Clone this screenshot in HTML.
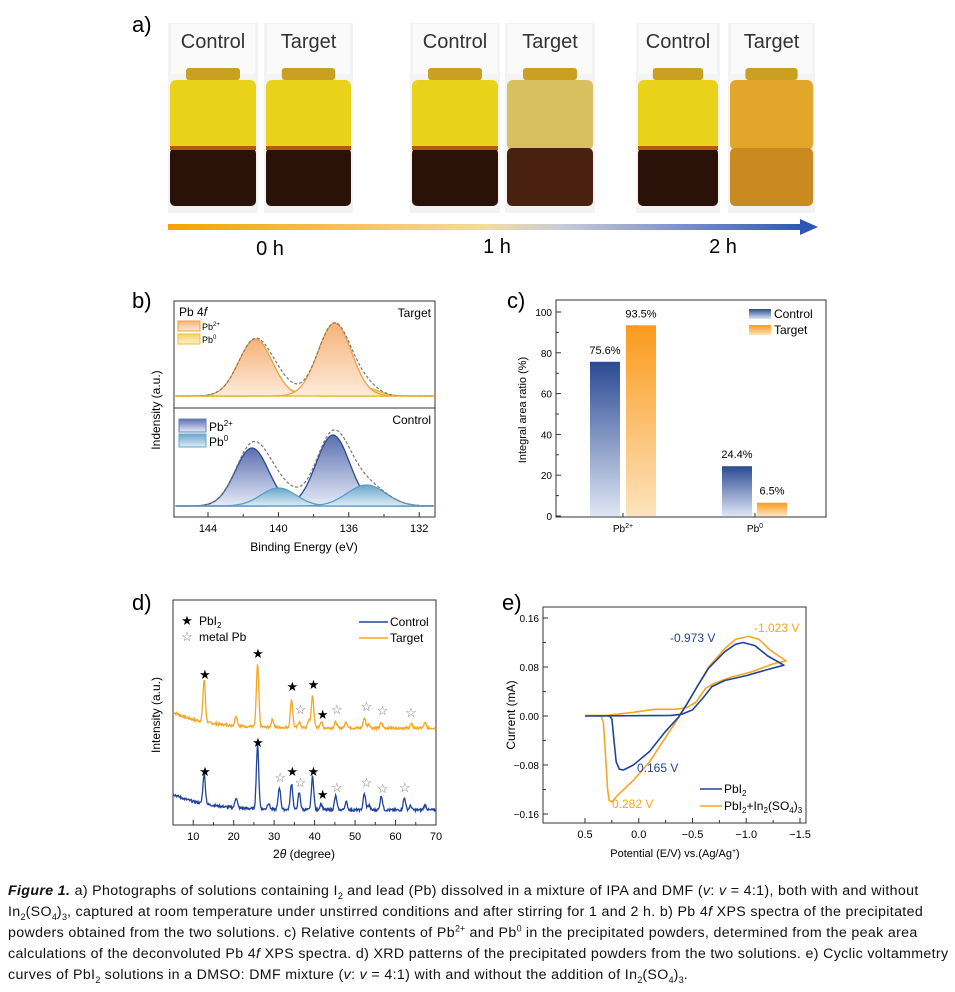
<!DOCTYPE html>
<html><head><meta charset="utf-8"><style>
body{margin:0;background:#fff;width:955px;height:992px;overflow:hidden;font-family:"Liberation Sans",sans-serif}
svg{position:absolute;left:0;top:0}
.cap{position:absolute;left:8px;top:881px;width:944px;font-size:14.2px;letter-spacing:0.35px;line-height:21px;color:#111}
.cap sub,.cap sup{font-size:9px;line-height:0;letter-spacing:0}
</style></head><body>
<svg id="s" width="955" height="870" viewBox="0 0 955 870" font-family="Liberation Sans, sans-serif">
<defs>
<linearGradient id="arr" x1="0" x2="1"><stop offset="0" stop-color="#f5a300"/><stop offset="0.5" stop-color="#f3dca0"/><stop offset="0.62" stop-color="#c9cbd8"/><stop offset="1" stop-color="#2e57b4"/></linearGradient>
<linearGradient id="bc" x1="0" y1="0" x2="0" y2="1"><stop offset="0" stop-color="#2b4a93"/><stop offset="1" stop-color="#dfe6f5"/></linearGradient>
<linearGradient id="bt" x1="0" y1="0" x2="0" y2="1"><stop offset="0" stop-color="#fb9a1c"/><stop offset="1" stop-color="#fde3bd"/></linearGradient>
<linearGradient id="g2o" x1="0" y1="0" x2="0" y2="1"><stop offset="0" stop-color="#f7b27a"/><stop offset="1" stop-color="#fdebd9"/></linearGradient>
<linearGradient id="g0o" x1="0" y1="0" x2="0" y2="1"><stop offset="0" stop-color="#f7d070"/><stop offset="1" stop-color="#fdf1c8"/></linearGradient>
<linearGradient id="g2b" x1="0" y1="0" x2="0" y2="1"><stop offset="0" stop-color="#5a6fb0"/><stop offset="1" stop-color="#e6ebf7"/></linearGradient>
<linearGradient id="g0b" x1="0" y1="0" x2="0" y2="1"><stop offset="0" stop-color="#6aa6cc"/><stop offset="1" stop-color="#dcedf6"/></linearGradient>
</defs>
<text x="132" y="32" font-size="22">a)</text>
<g id="jars"></g>
<rect x="168" y="224" width="635" height="6" fill="url(#arr)"/>
<polygon points="800,219 818,227 800,235" fill="#2e57b4"/>
<text x="270" y="255" font-size="20" text-anchor="middle">0 h</text>
<text x="497" y="253" font-size="20" text-anchor="middle">1 h</text>
<text x="723" y="253" font-size="20" text-anchor="middle">2 h</text>
<text x="132" y="308" font-size="22">b)</text>
<g id="pb"></g>
<text x="507" y="308" font-size="22">c)</text>
<g id="pc"></g>
<text x="132" y="610" font-size="22">d)</text>
<g id="pd"></g>
<text x="502" y="610" font-size="22">e)</text>
<g id="pe"></g>
</svg>
<div class="cap"><b><i>Figure 1.</i></b> a) Photographs of solutions containing I<sub>2</sub> and lead (Pb) dissolved in a mixture of IPA and DMF (<i>v</i>: <i>v</i> = 4:1), both with and without In<sub>2</sub>(SO<sub>4</sub>)<sub>3</sub>, captured at room temperature under unstirred conditions and after stirring for 1 and 2 h. b) Pb 4<i>f</i> XPS spectra of the precipitated powders obtained from the two solutions. c) Relative contents of Pb<sup>2+</sup> and Pb<sup>0</sup> in the precipitated powders, determined from the peak area calculations of the deconvoluted Pb 4<i>f</i> XPS spectra. d) XRD patterns of the precipitated powders from the two solutions. e) Cyclic voltammetry curves of PbI<sub>2</sub> solutions in a DMSO: DMF mixture (<i>v</i>: <i>v</i> = 4:1) with and without the addition of In<sub>2</sub>(SO<sub>4</sub>)<sub>3</sub>.</div>
<script>
const NS="http://www.w3.org/2000/svg";
function el(p,t,a,txt){const e=document.createElementNS(NS,t);for(const k in a)e.setAttribute(k,a[k]);if(txt!==undefined)e.innerHTML=txt;p.appendChild(e);return e;}
const J=document.getElementById('jars');
const jars=[[168,258,"Control",0],[264,353,"Target",0],[410,500,"Control",1],[505,595,"Target",2],[636,720,"Control",1],[728,815,"Target",3]];
jars.forEach(([a,b,t,k])=>{
 const w=b-a;
 el(J,'rect',{x:a,y:23,width:w,height:190,fill:'#f3f3f3'});
 el(J,'rect',{x:a+3,y:24,width:w-6,height:50,fill:'#fafafa'});
 el(J,'rect',{x:a+w*0.2,y:68,width:w*0.6,height:12,fill:'#c9a020',rx:3});
 let top=k==3?'#e2a62a':'#e8d21a', bot=k==3?'#c98a20':'#2b1208';
 if(k==2){top='#d8c060';bot='#4a2010';}
 el(J,'rect',{x:a+2,y:80,width:w-4,height:70,fill:top,rx:6});
 el(J,'rect',{x:a+2,y:148,width:w-4,height:58,fill:bot,rx:5});
 if(k==0||k==1) el(J,'rect',{x:a+2,y:146,width:w-4,height:4,fill:'#b35a10'});
 el(J,'text',{x:(a+b)/2,y:48,'font-size':20,'text-anchor':'middle',fill:'#333'},t);
});
const B=document.getElementById('pb');
el(B,'rect',{x:174,y:301,width:261,height:216,fill:'none',stroke:'#333','stroke-width':1});
el(B,'line',{x1:174,y1:408,x2:435,y2:408,stroke:'#333'});
const xe=e=>208+(144-e)*17.6;
[144,142,140,138,136,134,132].forEach(v=>{el(B,'line',{x1:xe(v),y1:517,x2:xe(v),y2:v%4==0?512:514,stroke:'#333'});});
[144,140,136,132].forEach(v=>el(B,'text',{x:xe(v),y:532,'font-size':11,'text-anchor':'middle'},v));
el(B,'text',{x:304,y:551,'font-size':12,'text-anchor':'middle'},'Binding Energy (eV)');
el(B,'text',{x:160,y:410,'font-size':12,'text-anchor':'middle',transform:'rotate(-90 160 410)'},'Indensity (a.u.)');
function gpath(base,peaks,lo=146,hi=131){let cur=[];for(let e=lo;e>=hi;e-=0.1){let y=0;peaks.forEach(([c,h,s])=>y+=h*Math.exp(-((e-c)**2)/(2*s*s)));cur.push([xe(e),base-y]);}return cur;}
function drawG(g,base,pk,fill,stroke){const pts=gpath(base,[pk]).filter(p=>p[0]>=175&&p[0]<=434);let d='M'+pts.map(p=>p[0].toFixed(1)+','+p[1].toFixed(1)).join('L');el(g,'path',{d:d+'Z',fill:fill,stroke:'none'});el(g,'path',{d:d,fill:'none',stroke:stroke,'stroke-width':1.3});}
const T=[[141.3,57,0.95],[136.8,73,0.95]],T0=[[139.8,8,0.7],[135.0,8,0.7]];
T0.forEach(p=>drawG(B,396,p,'url(#g0o)','#e8b820'));
T.forEach(p=>drawG(B,396,p,'url(#g2o)','#f0a040'));
let env=gpath(396,T.concat(T0)).filter(p=>p[0]>=175&&p[0]<=434);
el(B,'path',{d:'M'+env.map(p=>p.join(',')).join('L'),fill:'none',stroke:'#777','stroke-dasharray':'3,2','stroke-width':1.2});
el(B,'line',{x1:175,y1:396,x2:434,y2:396,stroke:'#e8b820','stroke-width':1.2});
const C=[[141.5,58,0.95],[136.9,71,0.95]],C0=[[140,18,1.0],[135,21,1.1]];
C.forEach(p=>drawG(B,506,p,'url(#g2b)','#2b4a93'));
C0.forEach(p=>drawG(B,506,p,'url(#g0b)','#5b9cc8'));
env=gpath(506,C.concat(C0)).filter(p=>p[0]>=175&&p[0]<=434);
el(B,'path',{d:'M'+env.map(p=>p.join(',')).join('L'),fill:'none',stroke:'#777','stroke-dasharray':'3,2','stroke-width':1.2});
el(B,'line',{x1:175,y1:506,x2:434,y2:506,stroke:'#5b9cc8','stroke-width':1.2});
el(B,'text',{x:179,y:316,'font-size':12},'Pb 4<tspan font-style="italic">f</tspan>');
el(B,'text',{x:431,y:317,'font-size':12,'text-anchor':'end'},'Target');
el(B,'text',{x:431,y:424,'font-size':12,'text-anchor':'end'},'Control');
el(B,'rect',{x:178,y:321,width:22,height:10,fill:'url(#g2o)',stroke:'#f0a040'});
el(B,'rect',{x:178,y:334,width:22,height:10,fill:'url(#g0o)',stroke:'#e8c040'});
el(B,'text',{x:202,y:330,'font-size':9},'Pb<tspan dy="-4" font-size="6">2+</tspan>');
el(B,'text',{x:202,y:343,'font-size':9},'Pb<tspan dy="-4" font-size="6">0</tspan>');
el(B,'rect',{x:179,y:419,width:27,height:13,fill:'url(#g2b)',stroke:'#6a7fb8'});
el(B,'rect',{x:179,y:434,width:27,height:13,fill:'url(#g0b)',stroke:'#6aa6cc'});
el(B,'text',{x:209,y:431,'font-size':12},'Pb<tspan dy="-5" font-size="8">2+</tspan>');
el(B,'text',{x:209,y:446,'font-size':12},'Pb<tspan dy="-5" font-size="8">0</tspan>');
const Cc=document.getElementById('pc');
el(Cc,'rect',{x:556,y:300,width:270,height:217,fill:'none',stroke:'#333'});
const yc=v=>516-v*2.04;
[0,20,40,60,80,100].forEach(v=>{el(Cc,'line',{x1:556,y1:yc(v),x2:561,y2:yc(v),stroke:'#333'});el(Cc,'text',{x:552,y:yc(v)+4,'font-size':10,'text-anchor':'end'},v);});
[10,30,50,70,90].forEach(v=>el(Cc,'line',{x1:556,y1:yc(v),x2:559,y2:yc(v),stroke:'#333'}));
el(Cc,'text',{x:526,y:410,'font-size':11,'text-anchor':'middle',transform:'rotate(-90 526 410)'},'Integral area ratio (%)');
[[590,75.6,'bc','75.6%'],[626,93.5,'bt','93.5%'],[722,24.4,'bc','24.4%'],[757,6.5,'bt','6.5%']].forEach(([x,v,f,t])=>{el(Cc,'rect',{x:x,y:yc(v),width:30,height:v*2.04,fill:'url(#'+f+')'});el(Cc,'text',{x:x+15,y:yc(v)-8,'font-size':11,'text-anchor':'middle'},t);});
el(Cc,'line',{x1:623,y1:517,x2:623,y2:513,stroke:'#333'});el(Cc,'line',{x1:755,y1:517,x2:755,y2:513,stroke:'#333'});
el(Cc,'text',{x:623,y:532,'font-size':10,'text-anchor':'middle'},'Pb<tspan dy="-4" font-size="7">2+</tspan>');
el(Cc,'text',{x:755,y:532,'font-size':10,'text-anchor':'middle'},'Pb<tspan dy="-4" font-size="7">0</tspan>');
el(Cc,'rect',{x:749,y:309,width:22,height:10,fill:'url(#bc)'});
el(Cc,'rect',{x:749,y:325,width:22,height:10,fill:'url(#bt)'});
el(Cc,'text',{x:774,y:318,'font-size':12},'Control');
el(Cc,'text',{x:774,y:334,'font-size':12},'Target');
const D=document.getElementById('pd');
el(D,'rect',{x:173,y:600,width:263,height:225,fill:'none',stroke:'#333'});
const xd=v=>173+(v-5)*4.046;
[10,20,30,40,50,60,70].forEach(v=>{el(D,'line',{x1:xd(v),y1:825,x2:xd(v),y2:820,stroke:'#333'});el(D,'text',{x:xd(v),y:840,'font-size':11,'text-anchor':'middle'},v);});
[15,25,35,45,55,65].forEach(v=>el(D,'line',{x1:xd(v),y1:825,x2:xd(v),y2:822,stroke:'#333'}));
el(D,'text',{x:304,y:858,'font-size':12,'text-anchor':'middle'},'2<tspan font-style="italic">θ</tspan> (degree)');
el(D,'text',{x:160,y:715,'font-size':12,'text-anchor':'middle',transform:'rotate(-90 160 715)'},'Intensity (a.u.)');
let seed=7;const rnd=()=>{seed=(seed*9301+49297)%233280;return seed/233280;};
function xrd(base,pk,col){let pts=[];for(let t=5;t<=70;t+=0.12){let y=16*Math.exp(-(t-5)/8)+ (rnd()-0.5)*2.4;pk.forEach(([c,h])=>y+=h*Math.exp(-((t-c)**2)/(2*0.09)));pts.push([xd(t).toFixed(1),(base-y).toFixed(1)]);}el(D,'path',{d:'M'+pts.map(p=>p.join(',')).join('L'),fill:'none',stroke:col,'stroke-width':1.3});}
xrd(728,[[12.7,42],[20.6,10],[25.9,62],[29.6,8],[34.3,28],[36.2,6],[38.6,8],[39.5,32],[41.6,6],[45.2,6],[47.8,6],[52.3,10],[53.4,4],[56.5,5],[63.9,4],[67.3,5]],'#f5a623');
xrd(810,[[12.7,30],[20.6,10],[25.9,63],[28.6,6],[31.3,22],[34.3,26],[36.2,17],[39.5,33],[41.6,6],[45.2,14],[47.8,8],[52.3,16],[53.4,5],[56.5,14],[62.2,12],[63.7,4],[67.3,5]],'#21449a');
const star=(x,y,f)=>el(D,'text',{x:x,y:y,'font-size':13,'text-anchor':'middle',fill:f?'#000':'#777'},f?'★':'☆');
[[12.9,679],[26,658],[34.5,691],[39.7,689],[42,719]].forEach(([v,y])=>star(xd(v),y,1));
[[36.5,714],[45.5,714],[52.8,711],[56.8,715],[63.8,717]].forEach(([v,y])=>star(xd(v),y,0));
[[12.9,776],[26,747],[34.5,776],[39.7,776],[42,799]].forEach(([v,y])=>star(xd(v),y,1));
[[31.5,782],[36.5,787],[45.5,792],[52.8,787],[56.8,793],[62.3,792]].forEach(([v,y])=>star(xd(v),y,0));
star(187,625,1);el(D,'text',{x:199,y:625,'font-size':12},'PbI<tspan dy="3" font-size="8">2</tspan>');
star(187,641,0);el(D,'text',{x:199,y:641,'font-size':12},'metal Pb');
el(D,'line',{x1:359,y1:622,x2:388,y2:622,stroke:'#21449a','stroke-width':1.5});
el(D,'line',{x1:359,y1:638,x2:388,y2:638,stroke:'#f5a623','stroke-width':1.5});
el(D,'text',{x:390,y:626,'font-size':12},'Control');el(D,'text',{x:390,y:642,'font-size':12},'Target');
const E=document.getElementById('pe');
el(E,'rect',{x:543,y:607,width:263,height:216,fill:'none',stroke:'#333'});
const xv=v=>585+(0.5-v)*107.5, yv=v=>716-v*612.5;
[0.5,0,-0.5,-1,-1.5].forEach((v,i)=>{el(E,'line',{x1:xv(v),y1:823,x2:xv(v),y2:818,stroke:'#333'});el(E,'text',{x:xv(v),y:838,'font-size':11,'text-anchor':'middle'},['0.5','0.0','−0.5','−1.0','−1.5'][i]);});
[0.25,-0.25,-0.75,-1.25].forEach(v=>el(E,'line',{x1:xv(v),y1:823,x2:xv(v),y2:820,stroke:'#333'}));
[[0.16,'0.16'],[0.08,'0.08'],[0,'0.00'],[-0.08,'−0.08'],[-0.16,'−0.16']].forEach(([v,t])=>{el(E,'line',{x1:543,y1:yv(v),x2:548,y2:yv(v),stroke:'#333'});el(E,'text',{x:539,y:yv(v)+4,'font-size':10,'text-anchor':'end'},t);});
[0.12,0.04,-0.04,-0.12].forEach(v=>el(E,'line',{x1:543,y1:yv(v),x2:546,y2:yv(v),stroke:'#333'}));
el(E,'text',{x:675,y:857,'font-size':11,'text-anchor':'middle'},'Potential (E/V) vs.(Ag/Ag<tspan dy="-4" font-size="7">+</tspan><tspan dy="4">)</tspan>');
el(E,'text',{x:515,y:715,'font-size':12,'text-anchor':'middle',transform:'rotate(-90 515 715)'},'Current (mA)');
function cv(pts,col){el(E,'path',{d:'M'+pts.map(([a,b])=>xv(a).toFixed(1)+','+yv(b).toFixed(1)).join('L'),fill:'none',stroke:col,'stroke-width':1.6,'stroke-linejoin':'round'});}
cv([[0.5,0.001],[0.35,0],[0.33,-0.01],[0.31,-0.06],[0.29,-0.12],[0.275,-0.138],[0.25,-0.14],[0.2,-0.13],[0.05,-0.105],[-0.1,-0.075],[-0.25,-0.035],[-0.37,-0.003],[-0.45,0.02],[-0.55,0.05],[-0.65,0.08],[-0.8,0.11],[-0.9,0.125],[-1.02,0.13],[-1.12,0.125],[-1.22,0.108],[-1.37,0.09],[-1.25,0.085],[-1.05,0.072],[-0.85,0.063],[-0.7,0.053],[-0.62,0.045],[-0.53,0.022],[-0.45,0.014],[-0.35,0.011],[-0.15,0.011],[0.05,0.006],[0.3,0.001],[0.5,0.001]],'#f5a623');
cv([[0.5,0],[0.27,0],[0.25,-0.005],[0.23,-0.04],[0.21,-0.075],[0.18,-0.087],[0.14,-0.088],[0.05,-0.08],[-0.1,-0.058],[-0.25,-0.025],[-0.37,-0.002],[-0.45,0.02],[-0.55,0.05],[-0.65,0.078],[-0.8,0.105],[-0.9,0.117],[-0.97,0.12],[-1.08,0.115],[-1.2,0.098],[-1.35,0.083],[-1.2,0.076],[-1.0,0.066],[-0.8,0.058],[-0.68,0.048],[-0.6,0.03],[-0.5,0.01],[-0.4,0.003],[-0.3,0.001],[0.5,0]],'#21449a');
el(E,'text',{x:670,y:642,'font-size':12,fill:'#21449a'},'-0.973 V');
el(E,'text',{x:754,y:632,'font-size':12,fill:'#f5a623'},'-1.023 V');
el(E,'text',{x:637,y:772,'font-size':12,fill:'#21449a'},'0.165 V');
el(E,'text',{x:612,y:808,'font-size':12,fill:'#f5a623'},'0.282 V');
el(E,'line',{x1:700,y1:789,x2:722,y2:789,stroke:'#21449a','stroke-width':1.6});
el(E,'line',{x1:700,y1:806,x2:722,y2:806,stroke:'#f5a623','stroke-width':1.6});
el(E,'text',{x:724,y:793,'font-size':12},'PbI<tspan dy="3" font-size="8">2</tspan>');
el(E,'text',{x:724,y:810,'font-size':12},'PbI<tspan dy="3" font-size="8">2</tspan><tspan dy="-3">+In</tspan><tspan dy="3" font-size="8">2</tspan><tspan dy="-3">(SO</tspan><tspan dy="3" font-size="8">4</tspan><tspan dy="-3">)</tspan><tspan dy="3" font-size="8">3</tspan>');
</script>
</body></html>
